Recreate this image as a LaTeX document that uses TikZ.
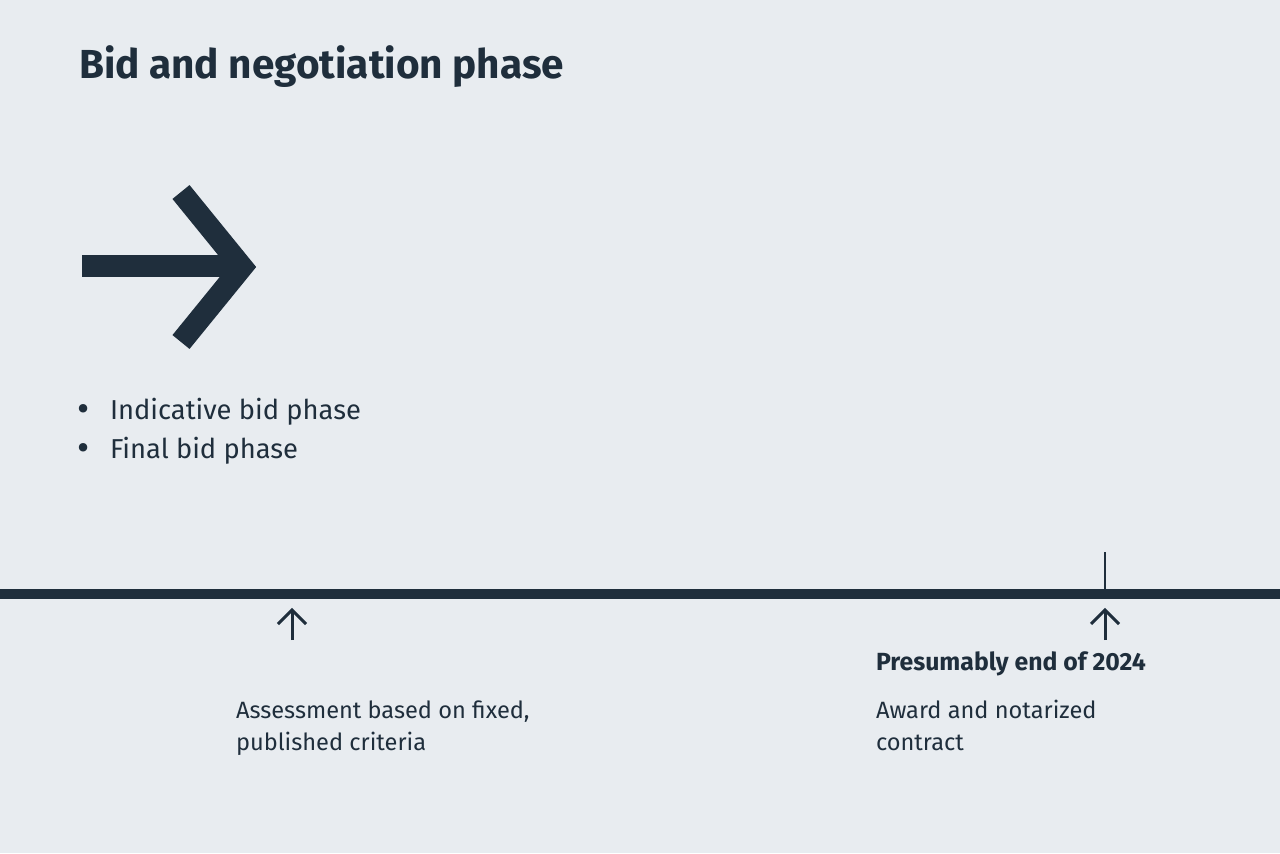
\documentclass[tikz,border=0pt]{standalone}
\usepackage{fontspec}
\setmainfont{Fira Sans}
\definecolor{bg}{HTML}{E8ECF0}
\definecolor{ink}{HTML}{1F2E3C}
\begin{document}
\begin{tikzpicture}[x=0.75pt,y=-0.75pt,
  every node/.style={inner sep=0pt,outer sep=0pt,text=ink},
  titletext/.style={anchor=base west,font=\fontsize{30.4}{36}\selectfont\bfseries},
  bullettext/.style={anchor=base west,font=\fontsize{20.5}{24}\selectfont},
  labeltext/.style={anchor=base west,align=left,font=\fontsize{17.7}{24}\selectfont},
  datetext/.style={anchor=base west,font=\fontsize{18.6}{24}\selectfont\bfseries},
  bigstroke/.style={draw=ink,line width=16.5pt},
  smallarrow/.style={draw=ink,line width=2.25pt,miter limit=10}]
\fill[bg] (0,0) rectangle (1280,853);
\useasboundingbox (0,0) rectangle (1280,853);

\node[titletext] (title) at (79,78) {Bid and negotiation phase};

% big arrow
\coordinate (barL) at (82,266);
\coordinate (barR) at (234,266);
\coordinate (chevT) at (181,192);
\coordinate (chevM) at (242,267);
\coordinate (chevB) at (181,342);
\draw[bigstroke] (barL) -- (barR);
\draw[bigstroke,miter limit=10] (chevT) -- (chevM) -- (chevB);

% bullets
\node[bullettext,font=\fontsize{28}{24}\selectfont] (d1) at (77,421) {•};
\node[bullettext] (b1) at (110,419) {Indicative bid phase};
\node[bullettext,font=\fontsize{28}{24}\selectfont] (d2) at (77,460) {•};
\node[bullettext] (b2) at (110,458) {Final bid phase};

% timeline
\coordinate (tl0) at (0,594);
\coordinate (tl1) at (1280,594);
\draw[draw=ink,line width=7.5pt] (tl0) -- (tl1);
\coordinate (tickT) at (1105,552);
\coordinate (tickB) at (1105,590);
\draw[draw=ink,line width=1.1pt] (tickT) -- (tickB);

% small arrows
\coordinate (s1b) at (292,640);
\coordinate (s1t) at (292,610);
\draw[smallarrow] (s1b) -- (s1t);
\draw[smallarrow] (278,624) -- (292,610) -- (306,624);
\coordinate (s2b) at (1105,640);
\coordinate (s2t) at (1105,610);
\draw[smallarrow] (s2b) -- (s2t);
\draw[smallarrow] (1091,624) -- (1105,610) -- (1119,624);

% labels (base anchor = last line)
\node[labeltext] (assess) at (236,750) {Assessment based on fixed,\\published criteria};
\node[datetext] (date) at (876,670) {Presumably end of 2024};
\node[labeltext] (award) at (876,750) {Award and notarized\\contract};
\end{tikzpicture}
\end{document}
